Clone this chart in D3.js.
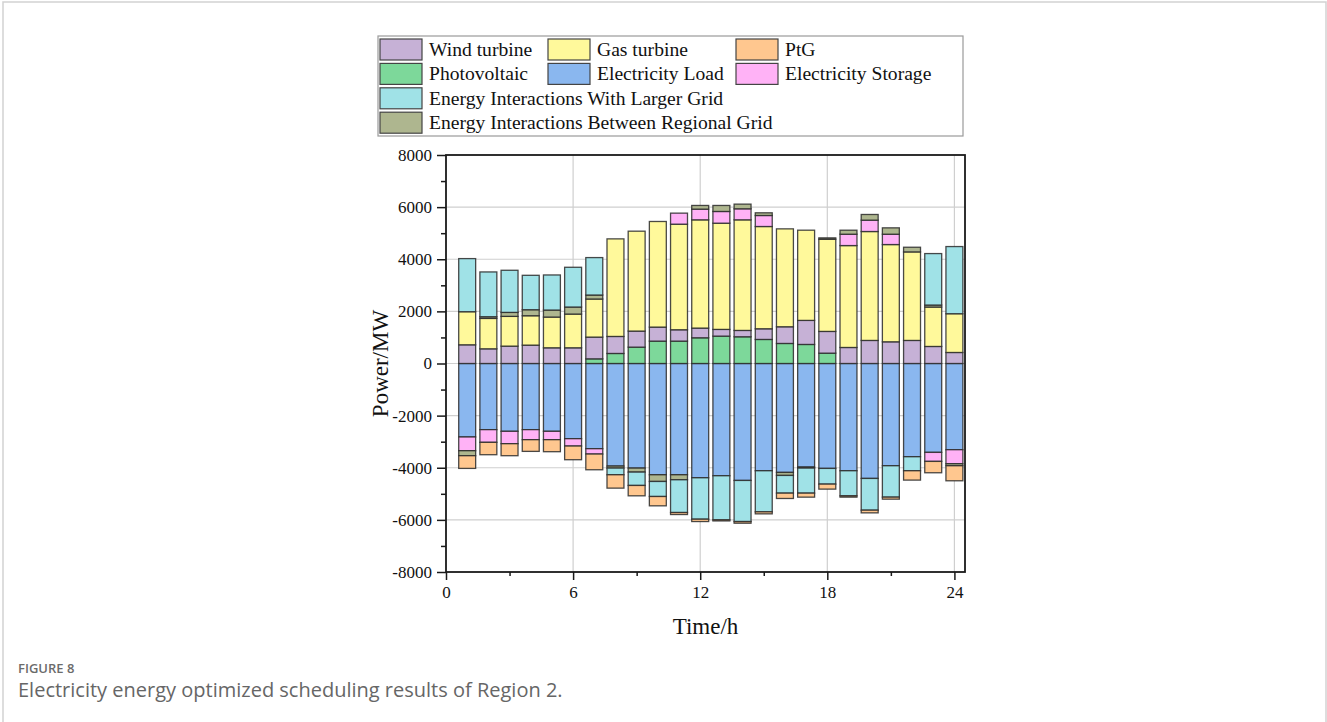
<!DOCTYPE html>
<html>
<head>
<meta charset="utf-8">
<script src="https://cdn.jsdelivr.net/npm/d3@7"></script>
<style>
  body { margin: 0; background: #fff; }
  svg { display: block; }
</style>
</head>
<body>
<script>
const hours = d3.range(1, 25)

// signed MW per hour, positive = supply, negative = consumption
const windTurbine = [718, 564, 667, 705, 603, 603, 834, 653, 616, 538, 436, 372, 257, 243, 410, 641, 923, 834, 615, 885, 833, 885, 654, 423]
const photovoltaic = [0, 0, 0, 0, 0, 0, 179, 385, 628, 859, 859, 987, 1051, 1026, 923, 769, 731, 397, 0, 0, 0, 0, 0, 0]
const gasTurbine = [1269, 1166, 1141, 1128, 1179, 1294, 1461, 3744, 3833, 4052, 4051, 4154, 4076, 4244, 3923, 3756, 3461, 3538, 3910, 4179, 3731, 3397, 1512, 1487]
const electricityLoad = [-2820, -2538, -2602, -2538, -2602, -2885, -3269, -3936, -4013, -4269, -4269, -4384, -4307, -4487, -4115, -4179, -3974, -4025, -4115, -4410, -3923, -3577, -3410, -3308]
const ptg = [-487, -475, -461, -449, -461, -525, -603, -513, -398, -358, -77, -90, -40, -64, -77, -205, -154, -192, -51, -103, -77, -359, -436, -577]
const electricityStorage = [-526, -487, -475, -385, -321, -282, -205, 0, 0, 0, 423, 410, 449, 423, 423, 0, 0, 0, 436, 436, 397, 0, -346, -538]
const largerGrid = [2038, 1718, 1616, 1320, 1346, 1525, 1436, -256, -512, -577, -1257, -1590, -1693, -1577, -1577, -679, -961, -603, -962, -1218, -1205, -538, 1975, 2577]
const regionalGrid = [-192, 65, 153, 231, 269, 270, 154, -77, -154, -257, -192, 141, 231, 179, 103, -116, -39, 51, 154, 218, 244, 179, 77, -77]

const yTicks = [-8000, -6000, -4000, -2000, 0, 2000, 4000, 6000, 8000]
const xTicks = [0, 6, 12, 18, 24]

const series = [
  { key: 'load', name: 'Electricity Load', values: electricityLoad, color: '#8ab7ef' },
  { key: 'pv', name: 'Photovoltaic', values: photovoltaic, color: '#7dd89a' },
  { key: 'wind', name: 'Wind turbine', values: windTurbine, color: '#c6b1d6' },
  { key: 'gas', name: 'Gas turbine', values: gasTurbine, color: '#fff99b' },
  { key: 'storage', name: 'Electricity Storage', values: electricityStorage, color: '#ffb2f6' },
  { key: 'regional', name: 'Energy Interactions Between Regional Grid', values: regionalGrid, color: '#aeb68f' },
  { key: 'grid', name: 'Energy Interactions With Larger Grid', values: largerGrid, color: '#a0e2e7' },
  { key: 'ptg', name: 'PtG', values: ptg, color: '#ffc78f' }
]
const color = d3.scaleOrdinal(series.map(s => s.key), series.map(s => s.color))

const table = hours.map((h, i) => {
  const row = { hour: h }
  series.forEach(s => { row[s.key] = s.values[i] })
  return row
})

const width = 1327
const height = 722
const svg = d3.select('body').append('svg')
  .attr('width', width)
  .attr('height', height)

// figure frame
svg.append('rect')
  .attr('x', 3).attr('y', 2)
  .attr('width', 1323).attr('height', 740)
  .attr('fill', 'none')
  .attr('stroke', '#d2d2d2')
  .attr('stroke-width', 1.5)

const x = d3.scaleLinear().domain([0, 24.5]).range([446, 965])
const y = d3.scaleLinear().domain([-8000, 8000]).range([572, 155])
const barW = x(0.8) - x(0)

// grid
svg.append('g')
  .selectAll('line.gy')
  .data(yTicks.slice(1, -1))
  .enter().append('line')
    .attr('x1', x(0)).attr('x2', x(24.5))
    .attr('y1', d => y(d)).attr('y2', d => y(d))
    .style('stroke', '#cfcfcf')
    .style('stroke-width', 1.2)
svg.append('g')
  .selectAll('line.gx')
  .data(xTicks.slice(1))
  .enter().append('line')
    .attr('y1', y(-8000)).attr('y2', y(8000))
    .attr('x1', d => x(d)).attr('x2', d => x(d))
    .style('stroke', '#cfcfcf')
    .style('stroke-width', 1.2)

// bars
const stack = d3.stack()
  .keys(series.map(s => s.key))
  .offset(d3.stackOffsetDiverging)
const layers = stack(table)

svg.append('g')
  .selectAll('g')
  .data(layers)
  .enter().append('g')
    .style('fill', d => color(d.key))
  .selectAll('rect')
  .data(d => d.filter(p => p[1] !== p[0]))
  .enter().append('rect')
    .attr('x', d => x(d.data.hour) - barW / 2)
    .attr('width', barW)
    .attr('y', d => y(Math.max(d[0], d[1])))
    .attr('height', d => Math.abs(y(d[0]) - y(d[1])))
    .style('stroke', '#2a2a2a')
    .style('stroke-opacity', 0.85)
    .style('stroke-width', 1.3)

// axes
const font = '"Liberation Serif", "Times New Roman", serif'

const yAxis = svg.append('g')
  .attr('transform', `translate(${x(0)},0)`)
  .call(d3.axisLeft(y).tickValues(yTicks).tickSize(9).tickPadding(5).tickFormat(d => String(d)))
yAxis.append('g')
  .call(d3.axisLeft(y).tickValues(d3.range(-7000, 8000, 2000)).tickSize(5).tickFormat(''))

const xAxis = svg.append('g')
  .attr('transform', `translate(0,${y(-8000)})`)
  .call(d3.axisBottom(x).tickValues(xTicks).tickSize(8).tickPadding(6))
xAxis.append('g')
  .call(d3.axisBottom(x).tickValues([3, 9, 15, 21]).tickSize(4).tickFormat(''))

svg.selectAll('.domain').remove()
svg.selectAll('.tick line').style('stroke', '#1a1a1a').style('stroke-width', 1.5)
svg.selectAll('.tick text')
  .style('font-family', font)
  .style('font-size', '17px')
  .style('fill', '#111')

svg.append('rect')
  .attr('x', x(0)).attr('y', y(8000))
  .attr('width', x(24.5) - x(0))
  .attr('height', y(-8000) - y(8000))
  .attr('fill', 'none')
  .style('stroke', '#1a1a1a')
  .style('stroke-width', 1.8)

svg.append('text')
  .attr('transform', `translate(388,${y(0)}) rotate(-90)`)
  .attr('text-anchor', 'middle')
  .style('font-family', font)
  .style('font-size', '23px')
  .style('fill', '#111')
  .text('Power/MW')

svg.append('text')
  .attr('x', (x(0) + x(24.5)) / 2)
  .attr('y', 634)
  .attr('text-anchor', 'middle')
  .style('font-family', font)
  .style('font-size', '23px')
  .style('fill', '#111')
  .text('Time/h')

// legend
const legendOrder = ['wind', 'gas', 'ptg', 'pv', 'load', 'storage', 'grid', 'regional']
const legendPos = [[380, 0], [548, 0], [736, 0], [380, 1], [548, 1], [736, 1], [380, 2], [380, 3]]

svg.append('rect')
  .attr('x', 378).attr('y', 36)
  .attr('width', 585).attr('height', 100)
  .attr('fill', '#fff')
  .style('stroke', '#9a9a9a')
  .style('stroke-width', 1.2)

const legend = svg.append('g')
  .selectAll('g')
  .data(legendOrder)
  .enter().append('g')
    .attr('transform', (d, i) => `translate(${legendPos[i][0]},${39 + legendPos[i][1] * 24.4})`)

legend.append('rect')
  .attr('width', 42).attr('height', 21)
  .style('fill', d => color(d))
  .style('stroke', '#444')
  .style('stroke-width', 1.2)

legend.append('text')
  .attr('x', 49).attr('y', 17)
  .style('font-family', font)
  .style('font-size', '19.6px')
  .style('fill', '#111')
  .text(d => series.find(s => s.key === d).name)

// caption
svg.append('text')
  .attr('x', 18).attr('y', 673)
  .style('font-family', '"Open Sans", sans-serif')
  .style('font-size', '13px')
  .style('font-weight', 600)
  .style('fill', '#6b6b6b')
  .text('FIGURE 8')

svg.append('text')
  .attr('x', 18).attr('y', 697)
  .style('font-family', '"Open Sans", sans-serif')
  .style('font-size', '20px')
  .style('fill', '#666')
  .text('Electricity energy optimized scheduling results of Region 2.')
</script>
</body>
</html>
